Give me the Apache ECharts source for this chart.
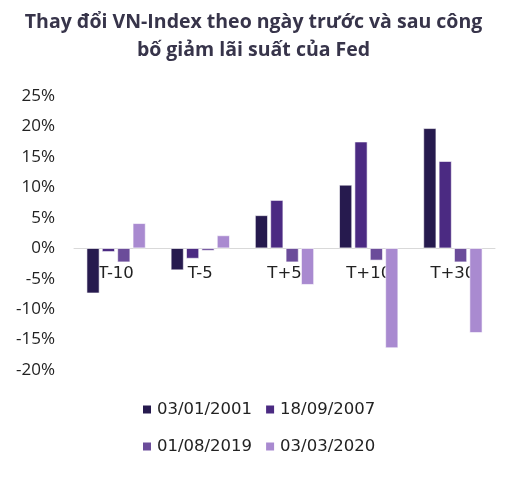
<!DOCTYPE html>
<html>
<head>
<meta charset="utf-8">
<script src="https://cdn.jsdelivr.net/npm/echarts@6/dist/echarts.min.js"></script>
<style>
  html, body { margin: 0; padding: 0; background: #fff; }
  #chart { width: 507px; height: 494px; }
</style>
</head>
<body>
<div id="chart"></div>
<script>
// số liệu
var categories = ['T-10', 'T-5', 'T+5', 'T+10', 'T+30'];
var seriesNames = ['03/01/2001', '18/09/2007', '01/08/2019', '03/03/2020'];
var d2001 = [-7.4, -3.6, 5.4, 10.4, 19.7];
var d2007 = [-0.6, -1.7, 7.9, 17.5, 14.3];
var d2019 = [-2.3, -0.4, -2.3, -2.0, -2.3];
var d2020 = [4.1, 2.1, -6.0, -16.4, -13.9];
var yTicks = [-20, -15, -10, -5, 0, 5, 10, 15, 20, 25];

var colors = ['#261a4e', '#4b2a82', '#6b4c9a', '#a98ad0'];
var allData = [d2001, d2007, d2019, d2020];

var myChart = echarts.init(document.getElementById('chart'));

var series = seriesNames.map(function (name, i) {
  return {
    name: name,
    type: 'bar',
    data: allData[i],
    barGap: '20%',
    barCategoryGap: '30%',
    itemStyle: { color: colors[i], borderColor: '#ffffff', borderWidth: 0.6 }
  };
});

var option = {
  backgroundColor: '#fff',
  color: colors,
  title: {
    text: 'Thay đổi VN-Index theo ngày trước và sau công\nbố giảm lãi suất của Fed',
    left: 'center',
    top: 3,
    textStyle: {
      fontFamily: 'Open Sans',
      fontWeight: 'bold',
      fontSize: 19.5,
      lineHeight: 28,
      color: '#37344a'
    }
  },
  legend: {
    data: seriesNames,
    left: 141,
    top: 397,
    padding: 0,
    width: 250,
    itemWidth: 10,
    itemHeight: 10,
    itemGap: 12,
    icon: 'rect',
    textStyle: { fontFamily: 'DejaVu Sans', fontSize: 16.5, color: '#222', lineHeight: 25 },
    selectedMode: false
  },
  grid: { left: 74, right: 12, top: 96, height: 274, containLabel: false },
  xAxis: {
    type: 'category',
    data: categories,
    // đặt trục ngang ở mức 0%
    offset: -122,
    axisLine: { onZero: false, lineStyle: { color: '#d9d9d9', width: 1 } },
    axisTick: { show: false },
    axisLabel: { margin: 17, fontFamily: 'DejaVu Sans', fontSize: 16.5, color: '#222' }
  },
  yAxis: {
    type: 'value',
    min: yTicks[0],
    max: yTicks[yTicks.length - 1],
    interval: 5,
    axisLine: { show: false },
    axisTick: { show: false },
    splitLine: { show: false },
    axisLabel: {
      margin: 19,
      fontFamily: 'Open Sans',
      fontSize: 17,
      color: '#222',
      formatter: function (v) { return v + '%'; }
    }
  },
  series: series
};

myChart.setOption(option);
</script>
</body>
</html>
